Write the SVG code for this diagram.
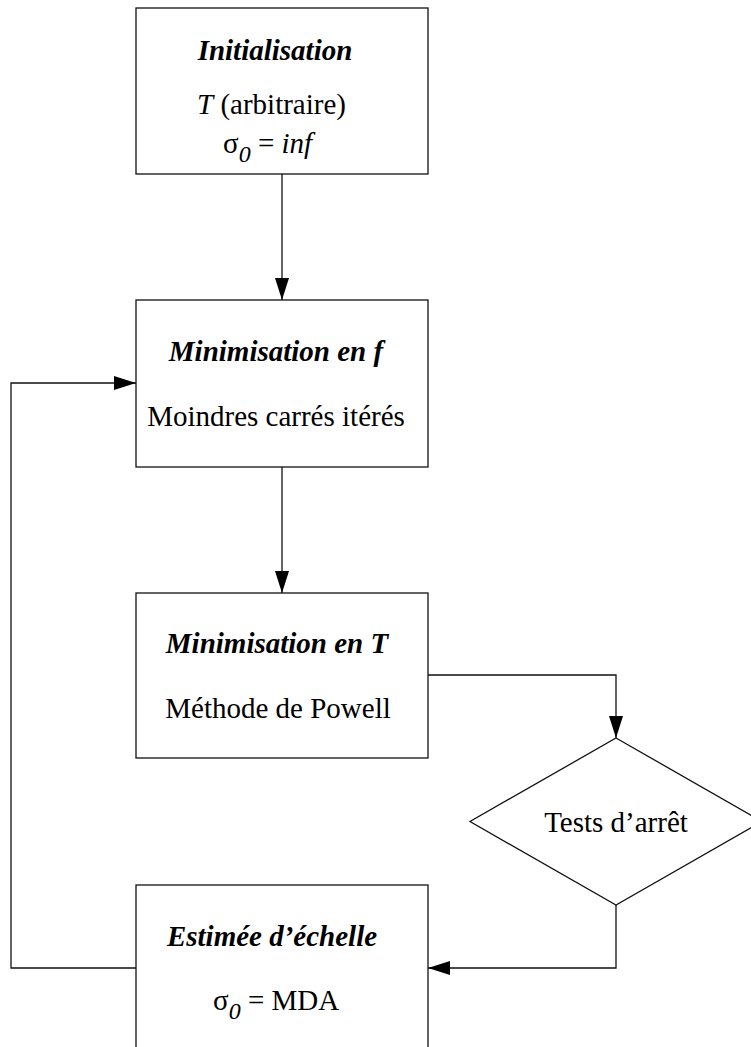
<svg xmlns="http://www.w3.org/2000/svg" width="751" height="1047" viewBox="0 0 751 1047">
<style>
.box{fill:#fff;stroke:#111;stroke-width:1.3}
.con{fill:none;stroke:#111;stroke-width:1.3}
.t{font-weight:bold;font-style:italic}
.mid{text-anchor:middle}
.it{font-style:italic}
.sub{font-style:italic;font-size:24px}
</style>
<defs>
<marker id="arr" markerUnits="userSpaceOnUse" markerWidth="22" markerHeight="14" refX="22" refY="7" orient="auto">
<path d="M0,0 L22,7 L0,14 z" fill="#000"/>
</marker>
</defs>
<rect width="751" height="1047" fill="#fff"/>
<g id="connectors">
<path class="con" d="M282,174 V300" marker-end="url(#arr)"/>
<path class="con" d="M282,467 V593" marker-end="url(#arr)"/>
<path class="con" d="M428,675 H616 V738" marker-end="url(#arr)"/>
<path class="con" d="M616,905 V968 H428" marker-end="url(#arr)"/>
<path class="con" d="M136,968 H11 V383 H136" marker-end="url(#arr)"/>
</g>
<g font-family="Liberation Serif, Tinos, Times New Roman, DejaVu Serif, serif" font-size="29" fill="#000">
<g id="init">
<rect class="box" x="136" y="8" width="292" height="166"/>
<text class="t mid" x="275" y="60">Initialisation</text>
<text x="197" y="114"><tspan class="it">T</tspan> (arbitraire)</text>
<text x="223" y="153">σ<tspan class="sub" dy="9">0</tspan><tspan dy="-9"> = </tspan><tspan class="it">inf</tspan></text>
</g>
<g id="minf">
<rect class="box" x="136" y="300" width="292" height="167"/>
<text class="t mid" x="276" y="361">Minimisation en f</text>
<text class="mid" x="276" y="426">Moindres carrés itérés</text>
</g>
<g id="minT">
<rect class="box" x="136" y="593" width="292" height="165"/>
<text class="t mid" x="277" y="653">Minimisation en T</text>
<text class="mid" x="278" y="718">Méthode de Powell</text>
</g>
<g id="tests">
<polygon class="box" points="616,738 762,821.5 616,905 470,821.5"/>
<text class="mid" x="616" y="832">Tests d’arrêt</text>
</g>
<g id="echelle">
<rect class="box" x="136" y="885" width="292" height="175"/>
<text class="t mid" x="272" y="946">Estimée d’échelle</text>
<text x="213" y="1010">σ<tspan class="sub" dy="9">0</tspan><tspan dy="-9"> = MDA</tspan></text>
</g>
</g>
</svg>
